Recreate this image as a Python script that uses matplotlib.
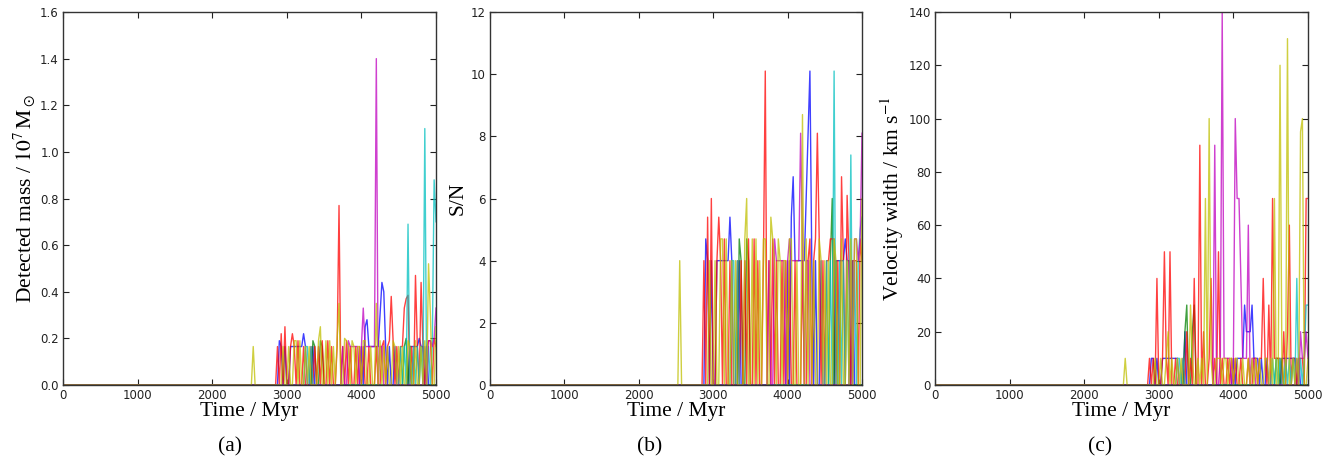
import numpy as np
import matplotlib
matplotlib.use("Agg")
import matplotlib.pyplot as plt

plt.rcParams['mathtext.fontset'] = 'stix'
plt.rcParams['font.family'] = 'DejaVu Sans'

# ---------------- data (detections; zero elsewhere on a 25 Myr grid) -------------
step = 25
t_max = 5000

b_t  = [2900, 2925, 2975, 3050, 3075, 3100, 3125, 3150, 3175, 3200, 3225, 3250, 3350,
        4000, 4050, 4075, 4100, 4125, 4150, 4175, 4200, 4225, 4250, 4275, 4300, 4325, 4375, 4450,
        4650, 4675, 4700, 4725, 4750, 4775, 4800, 4825, 4875]
b_sn = [4.7, 4.0, 4.0, 4.0, 4.0, 4.0, 4.0, 4.0, 4.0, 4.0, 5.4, 4.0, 4.0,
        4.0, 5.4, 6.7, 4.0, 4.0, 4.0, 4.0, 4.0, 4.0, 6.0, 8.0, 10.1, 4.0, 4.0, 4.0,
        4.0, 4.0, 4.0, 4.0, 4.0, 4.7, 4.0, 4.0, 4.0]
b_m  = [0.19, 0.165, 0.165, 0.165, 0.165, 0.165, 0.165, 0.165, 0.165, 0.165, 0.22, 0.165, 0.165,
        0.165, 0.25, 0.28, 0.165, 0.165, 0.165, 0.165, 0.165, 0.165, 0.30, 0.44, 0.40, 0.165, 0.165, 0.165,
        0.165, 0.165, 0.165, 0.165, 0.165, 0.20, 0.165, 0.165, 0.165]
b_vw = [10, 10, 10, 10, 10, 10, 10, 10, 10, 10, 10, 10, 20,
        10, 10, 10, 10, 10, 30, 20, 20, 20, 30, 10, 10, 10, 10, 10,
        10, 10, 10, 10, 10, 10, 10, 10, 10]

g_t  = [3350, 3375, 3450, 3475, 4575, 4600, 4650]
g_sn = [4.7, 4.0, 4.7, 4.0, 4.0, 6.0, 4.0]
g_m  = [0.19, 0.165, 0.19, 0.165, 0.165, 0.20, 0.165]
g_vw = [20, 30, 20, 30, 10, 10, 10]

r_t  = [2875, 2925, 2975, 3050, 3075, 3100, 3150, 3225, 3325, 3375,
        3425, 3475, 3550, 3600, 3675, 3700, 3750, 3800, 3850, 3925,
        3975, 4025, 4100, 4200, 4275, 4300, 4350, 4375, 4400, 4425,
        4475, 4525, 4550, 4575, 4600, 4625, 4675, 4725, 4750, 4800,
        4825, 4875, 4900, 4925, 4975, 5000]
r_sn = [4.0, 5.4, 6.0, 4.0, 5.4, 4.0, 4.7, 4.0, 4.0, 4.0,
        4.0, 4.7, 4.7, 4.0, 4.0, 10.1, 4.0, 4.7, 4.0, 4.0,
        4.0, 4.0, 4.0, 4.0, 4.0, 4.7, 4.0, 4.7, 8.1, 4.7,
        4.0, 4.0, 4.0, 4.7, 4.7, 4.7, 4.0, 6.7, 4.0, 6.1,
        4.0, 4.0, 4.0, 4.0, 4.7, 4.0]
r_m  = [0.165, 0.22, 0.25, 0.165, 0.22, 0.165, 0.19, 0.165, 0.165, 0.165,
        0.165, 0.19, 0.19, 0.165, 0.165, 0.77, 0.165, 0.19, 0.165, 0.165,
        0.165, 0.165, 0.165, 0.165, 0.165, 0.19, 0.165, 0.19, 0.38, 0.19,
        0.165, 0.165, 0.165, 0.33, 0.37, 0.385, 0.165, 0.47, 0.165, 0.44,
        0.165, 0.165, 0.19, 0.19, 0.20, 0.165]
r_vw = [10, 10, 40, 10, 50, 10, 50, 10, 10, 20,
        10, 40, 90, 20, 10, 40, 10, 50, 10, 10,
        10, 10, 10, 10, 10, 10, 10, 10, 40, 10,
        30, 70, 10, 10, 10, 10, 20, 20, 60, 10,
        10, 10, 10, 10, 70, 70]

c_t  = [3250, 3275, 3325, 4525, 4575, 4625, 4700, 4750, 4800, 4850, 4900, 4950, 4975, 5000]
c_sn = [4.0, 4.0, 4.0, 4.0, 4.0, 10.1, 4.0, 4.0, 4.0, 7.4, 4.0, 4.0, 5.0, 5.4]
c_m  = [0.165, 0.165, 0.165, 0.165, 0.165, 0.69, 0.165, 0.165, 0.165, 1.10, 0.165, 0.165, 0.88, 0.70]
c_vw = [10, 10, 10, 10, 10, 10, 10, 10, 10, 40, 10, 10, 30, 30]

m_t  = [3750, 3825, 3850, 3875, 3900, 3925, 3950, 4000, 4025, 4050,
        4075, 4100, 4125, 4150, 4175, 4200, 4250, 4275, 4850, 4900,
        4925, 4950, 4975, 5000]
m_sn = [4.0, 4.7, 4.0, 4.0, 4.0, 4.0, 4.0, 4.0, 4.7, 4.0,
        4.0, 4.0, 4.0, 4.0, 8.1, 4.7, 4.0, 4.0, 4.0, 4.7,
        4.7, 4.0, 4.7, 8.1]
m_m  = [0.165, 0.19, 0.165, 0.165, 0.165, 0.165, 0.165, 0.165, 0.33, 0.165,
        0.165, 0.165, 0.165, 0.165, 0.165, 1.40, 0.165, 0.165, 0.165, 0.19,
        0.19, 0.165, 0.20, 0.33]
m_vw = [90, 10, 140, 10, 10, 10, 10, 10, 100, 70,
        70, 40, 10, 10, 10, 60, 10, 10, 10, 20,
        10, 10, 20, 10]

y_t  = [2550, 2950, 3025, 3100, 3125, 3175, 3250, 3300, 3425, 3450,
        3525, 3575, 3625, 3675, 3700, 3775, 3800, 3825, 3875, 3900,
        3950, 3975, 4025, 4050, 4125, 4200, 4250, 4300, 4350, 4425,
        4450, 4500, 4550, 4625, 4650, 4725, 4800, 4850, 4900, 4925,
        5000]
y_sn = [4.0, 4.0, 4.0, 4.7, 4.7, 4.7, 4.0, 4.0, 4.7, 6.0,
        4.7, 4.7, 4.0, 4.7, 4.7, 5.4, 4.7, 4.0, 4.7, 4.0,
        4.0, 4.0, 4.7, 4.7, 4.0, 8.7, 4.7, 4.0, 4.0, 4.7,
        4.0, 4.0, 4.0, 4.7, 4.0, 4.7, 4.0, 4.7, 4.7, 4.7,
        6.0]
y_m  = [0.165, 0.165, 0.165, 0.19, 0.19, 0.19, 0.165, 0.165, 0.19, 0.25,
        0.19, 0.19, 0.165, 0.20, 0.35, 0.20, 0.19, 0.165, 0.19, 0.165,
        0.165, 0.165, 0.19, 0.19, 0.165, 0.35, 0.19, 0.165, 0.165, 0.19,
        0.165, 0.165, 0.165, 0.19, 0.165, 0.19, 0.165, 0.19, 0.52, 0.30,
        0.25]
y_vw = [10, 10, 10, 10, 20, 10, 10, 10, 30, 10,
        10, 10, 70, 100, 10, 10, 10, 10, 10, 10,
        10, 10, 10, 10, 10, 10, 10, 10, 10, 10,
        10, 10, 70, 120, 10, 130, 10, 10, 95, 100,
        10]

# black series: no detections (stays at zero)
k_t  = []
k_sn = []
k_m  = []
k_vw = []

series_colors = ['b', 'g', 'r', 'c', 'm', 'y', 'k']
series_t  = [b_t, g_t, r_t, c_t, m_t, y_t, k_t]
series_m  = [b_m, g_m, r_m, c_m, m_m, y_m, k_m]
series_sn = [b_sn, g_sn, r_sn, c_sn, m_sn, y_sn, k_sn]
series_vw = [b_vw, g_vw, r_vw, c_vw, m_vw, y_vw, k_vw]

x_ticks = [0, 1000, 2000, 3000, 4000, 5000]
panel_ylims = [(0, 1.6), (0, 12), (0, 140)]
panel_yticks = [np.arange(0, 1.61, 0.2), np.arange(0, 12.1, 2), np.arange(0, 141, 20)]
panel_ylabels = [r'Detected mass / $10^7\,\mathrm{M}_\odot$', 'S/N',
                 r'Velocity width / km s$^{-1}$']
panel_captions = ['(a)', '(b)', '(c)']
xlabel = 'Time / Myr'

# ---------------- figure ----------------
W, H = 1330, 458
fig = plt.figure(figsize=(W / 100, H / 100), dpi=100)
fig.patch.set_facecolor('white')

grid = np.arange(0, t_max + 1, step)

def on_grid(ts, vs):
    arr = np.zeros_like(grid, dtype=float)
    if len(ts):
        idx = (np.asarray(ts) // step).astype(int)
        arr[idx] = vs
    return arr

axes_px = [(63, 436), (490, 862), (935, 1308)]
top_px, bot_px = 12, 385
caption_x = [230, 650, 1100]
serif = 'Liberation Serif'

all_vals = [series_m, series_sn, series_vw]
for p in range(3):
    x0, x1 = axes_px[p]
    ax = fig.add_axes([x0 / W, (H - bot_px) / H, (x1 - x0) / W, (bot_px - top_px) / H])
    for col, ts, vs in zip(series_colors, series_t, all_vals[p]):
        ax.plot(grid, on_grid(ts, vs), color=col, lw=1.0, alpha=0.75)
    ax.set_xlim(0, 5000)
    ax.set_ylim(*panel_ylims[p])
    ax.set_xticks(x_ticks)
    ax.set_yticks(panel_yticks[p])
    if p == 0:
        ax.set_yticklabels(['%.1f' % v for v in panel_yticks[p]])
    ax.tick_params(direction='in', top=True, right=True, labelsize=8.5,
                   length=4, width=0.8, pad=3, colors='#222222')
    for s in ax.spines.values():
        s.set_linewidth(1.0)
        s.set_color('#333333')
    ax.set_xlabel(xlabel, family=serif, fontsize=15.5, labelpad=0)
    ax.set_ylabel(panel_ylabels[p], family=serif, fontsize=15.5, labelpad=2)
    fig.text(caption_x[p] / W, 1 - 447 / H, panel_captions[p], family=serif,
             fontsize=15.5, ha='center', va='center')

fig.savefig('out.png', dpi=100)
